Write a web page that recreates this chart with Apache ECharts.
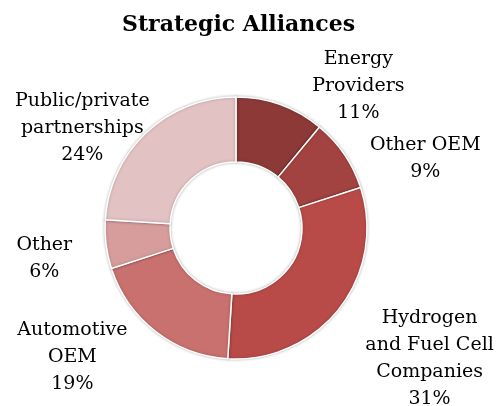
<!DOCTYPE html>
<html>
<head>
<meta charset="utf-8">
<script src="https://cdn.jsdelivr.net/npm/echarts@6/dist/echarts.min.js"></script>
<style>
	html, body { margin: 0; padding: 0; background: #fff; }
	#main { width: 497px; height: 406px; }
</style>
</head>
<body>
<div id="main"></div>
<script>
	var categories = ['Energy\nProviders', 'Other OEM', 'Hydrogen\nand Fuel Cell\nCompanies', 'Automotive\nOEM', 'Other', 'Public/private\npartnerships'];
	var shares = [11, 9, 31, 19, 6, 24];
	var colors = ['#8c3938', '#a34341', '#b84b48', '#c8716f', '#d69d9c', '#e3c2c3'];
	// small label nudges (px) so the labels sit where the original put them
	var nudgeX = [5, -11, -10, 4, 6, 37];
	var nudgeY = [0, 15, 38, 10, 12, 10];

	var chartData = [];
	categories.forEach(function(name, i){
		chartData.push({ name: name, value: shares[i], itemStyle: { color: colors[i] } });
	});

	var myChart = echarts.init(document.getElementById('main'));
	myChart.setOption({
		backgroundColor: '#fff',
		animation: false,
		title: {
			text: 'Strategic Alliances',
			left: 117,
			top: 9,
			textStyle: { fontFamily: 'DejaVu Serif', fontWeight: 'bold', fontSize: 22, color: '#000' }
		},
		series: [{
			type: 'pie',
			center: [236, 228],
			radius: [66, 131],
			startAngle: 90,
			clockwise: true,
			avoidLabelOverlap: false,
			itemStyle: { borderColor: '#fff', borderWidth: 1.5, shadowBlur: 3, shadowColor: 'rgba(0,0,0,0.25)' },
			label: {
				show: true,
				position: 'outside',
				formatter: '{b}\n{c}%',
				fontFamily: 'DejaVu Serif',
				fontSize: 19,
				lineHeight: 27,
				color: '#000'
			},
			labelLine: { show: false, length: 20, length2: 15 },
			labelLayout: function(p){
				return {
					x: p.labelRect.x + p.labelRect.width / 2,
					align: 'center',
					dx: nudgeX[p.dataIndex],
					dy: nudgeY[p.dataIndex]
				};
			},
			data: chartData
		}]
	});
</script>
</body>
</html>
